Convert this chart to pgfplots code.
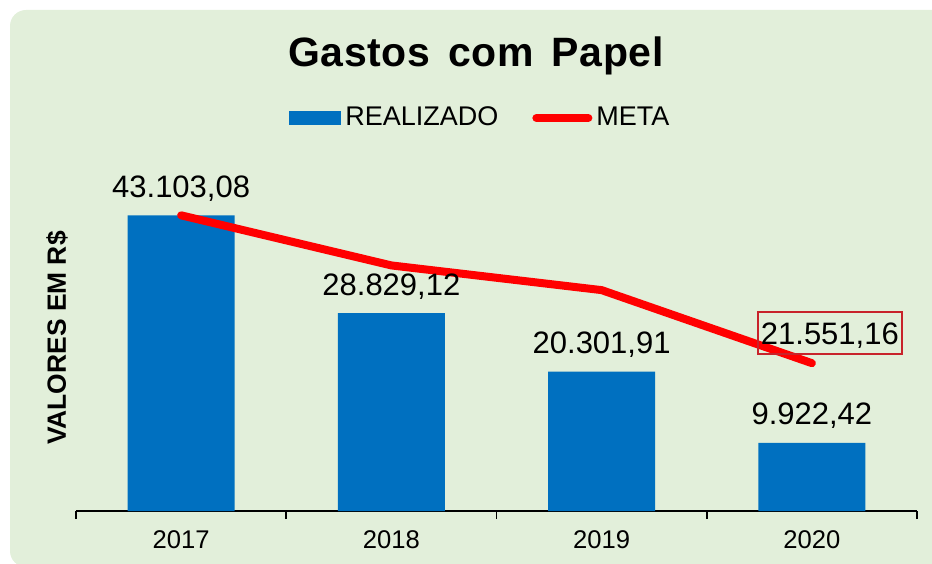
\documentclass[border=0pt]{standalone}
\usepackage{fontspec}
\setmainfont{Liberation Sans}
\newfontfamily\titlefont[LetterSpace=1.5]{Liberation Sans}
\usepackage{pgfplots}
\pgfplotsset{compat=1.18}
\usepackage{pgfplotstable}
\definecolor{bg}{HTML}{E2EFDA}
\definecolor{barblue}{HTML}{0070C0}
\definecolor{boxred}{HTML}{C8232B}

\pgfplotstableread{
x y label
0 43103.08 43.103,08
1 28829.12 28.829,12
2 20301.91 20.301,91
3 9922.42 9.922,42
}\realizado
\pgfplotstableread{
x y
0 43103.08
1 35800
2 32200
3 21551.16
}\meta

\begin{document}
\begin{tikzpicture}
\path[use as bounding box] (0,0) rectangle (466pt,281.5pt);
\fill[bg, rounded corners=8pt] (5pt,-2pt) rectangle (475pt,276.5pt);
\node[anchor=base, font=\titlefont\bfseries\fontsize{20.5}{22}\selectfont] at (238pt,248pt) {Gastos\hspace{3pt} com\hspace{3pt} Papel};
\begin{axis}[
  scale only axis,
  width=420.5pt, height=171.5pt,
  at={(38pt,26pt)}, anchor=south west,
  xmin=-0.5, xmax=3.5, ymin=0, ymax=50000,
  axis y line=none,
  axis x line=bottom,
  x axis line style={-, line width=1pt, black},
  xtick={0,1,2,3},
  xticklabels={2017,2018,2019,2020},
  major tick length=0pt,
  minor xtick={-0.5,0.5,1.5,2.5,3.5},
  minor tick length=4pt,
  tick align=outside,
  minor tick style={line width=0.8pt, black},
  xticklabel style={anchor=base, yshift=-18.5pt, font=\fontsize{12.8}{14}\selectfont},
  legend columns=2,
  legend style={at={(axis description cs:0.482,1.146)}, anchor=center, draw=none, fill=none,
    font=\fontsize{13.5}{15}\selectfont, /tikz/every even column/.append style={column sep=15pt}},
  legend cell align=left,
  clip=false,
]
\addplot[ybar, bar width=53.5pt, fill=barblue, draw=none,
  point meta=explicit symbolic,
  nodes near coords,
  every node near coord/.append style={anchor=base, yshift=9pt, font=\fontsize{15.5}{17}\selectfont, text=black},
  legend image code/.code={\fill[barblue] (0pt,-3.5pt) rectangle (26pt,3.5pt);}
] table[x=x, y=y, meta=label] {\realizado};
\addlegendentry{REALIZADO}
\addplot[red, line width=4pt, line join=round, line cap=round, mark=none,
  legend image code/.code={\draw[red, line width=4pt, line cap=round] (1pt,0pt) -- (27pt,0pt);}
] table[x=x, y=y] {\meta};
\addlegendentry{META}
\addplot[draw=none, mark=none, forget plot,
  point meta=explicit symbolic,
  nodes near coords,
  every node near coord/.append style={anchor=center, xshift=9pt, yshift=15pt, draw=boxred, line width=0.8pt,
    inner xsep=1.5pt, inner ysep=0pt, text height=16pt, text depth=5pt, font=\fontsize{15.5}{17}\selectfont, text=black}
] coordinates {(3,21551.16) [21.551,16]};
\node[rotate=90, anchor=center, font=\bfseries\fontsize{13.2}{15}\selectfont]
  at (axis description cs:-0.0226,0.504) {VALORES EM R\$};
\end{axis}
\end{tikzpicture}
\end{document}
